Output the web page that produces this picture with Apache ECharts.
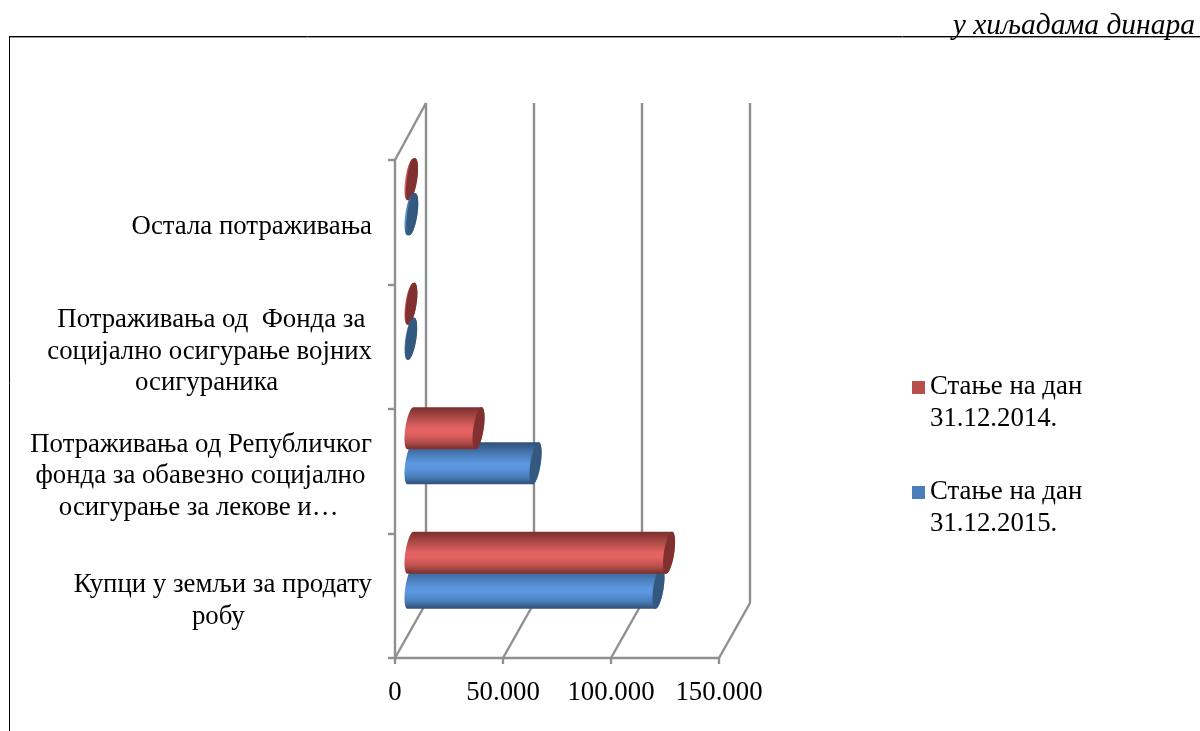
<!DOCTYPE html>
<html>
<head>
<meta charset="utf-8">
<style>html,body{margin:0;padding:0;background:#fff}#c{width:1200px;height:731px}</style>
<script src="https://cdn.jsdelivr.net/npm/echarts@6/dist/echarts.min.js"></script>
</head>
<body>
<div id="c"></div>
<script>
const categories = [
  "Купци у земљи за продату\nробу",
  "Потраживања од Републичког\nфонда за обавезно социјално\nосигурање за лекове и…",
  "Потраживања од  Фонда за\nсоцијално осигурање војних\nосигураника",
  "Остала потраживања"
];
const values2014 = [119700, 31500, 400, 700];
const values2015 = [114800, 57900, 300, 800];
const name2014 = "Стање на дан\n31.12.2014.";
const name2015 = "Стање на дан\n31.12.2015.";
const valueTicks = [0, 50000, 100000, 150000];
const unitNote = "у хиљадама динара";

/* styling and 3D projection, kept apart from the data */
const FONT = "Liberation Serif";
const FS = 26.8;
const labelInsets = [[0,124],[0,10,32],[7,0,92],[0]];
const DX = 31, DY = -55, DY_TOP = -57;
const BAR_DX = 15.5, BAR_DY = -25.5;
const GREY = "#8f8f8f";
const LW = 2.4;
const RY = 21, TILT = 3, RX = 5.2;

function cylinder(values, role, base, mid, edge, cap) {
  return {
    type: "custom", name: role === 0 ? name2014 : name2015, coordinateSystem: "cartesian2d",
    z: 3, clip: false, itemStyle: { color: base }, encode: { x: 0, y: 1 },
    data: values.map((v, i) => [v, i]),
    renderItem(params, api) {
      const start = api.coord([0, api.value(1)]);
      const end = api.coord([api.value(0), api.value(1)]);
      const sep = api.size([0, 1])[1] * 0.1406;
      const cy = start[1] + BAR_DY + (role === 0 ? -sep : sep);
      const x0 = start[0] + BAR_DX, x1 = end[0] + BAR_DX;
      const pt = (cx, t) => [cx + RX * Math.cos(t) - TILT * Math.sin(t), cy + RY * Math.sin(t)];
      const body = [];
      for (let k = 0; k <= 40; k++) body.push(pt(x0, Math.PI / 2 + Math.PI * k / 40));
      for (let k = 0; k <= 40; k++) body.push(pt(x1, -Math.PI / 2 + Math.PI * k / 40));
      const capPts = [];
      for (let k = 0; k < 60; k++) capPts.push(pt(x1, 2 * Math.PI * k / 60));
      const short = x1 - x0 < 2 * RX + 2;
      const z2 = role === 1 ? (short ? 3 : 1) : 2;
      return {
        type: "group",
        children: [
          { type: "polygon", z2, shape: { points: body }, style: {
              fill: new echarts.graphic.LinearGradient(0, 0, 0, 1, [
                { offset: 0, color: edge }, { offset: 0.3, color: base },
                { offset: 0.5, color: mid }, { offset: 0.62, color: mid }, { offset: 0.82, color: base }, { offset: 1, color: edge }
              ]) } },
          { type: "polygon", z2, shape: { points: capPts }, style: { fill: cap } }
        ]
      };
    }
  };
}

const chart = echarts.init(document.getElementById("c"), null, { renderer: "canvas" });
chart.setOption({
  animation: false,
  backgroundColor: "#fff",
  textStyle: { fontFamily: FONT, color: "#000" },
  title: {
    text: unitNote, right: 0, top: 6,
    textStyle: { fontFamily: FONT, fontSize: 29.5, fontStyle: "italic", fontWeight: "normal", color: "#000" }
  },
  grid: { left: 395, top: 160, width: 324, height: 498, containLabel: false },
  xAxis: {
    type: "value", min: 0, max: 150000, interval: 50000,
    splitLine: { show: false },
    axisLine: { show: true, lineStyle: { color: GREY, width: LW } },
    axisTick: { show: true, length: 6, lineStyle: { color: GREY, width: LW } },
    axisLabel: {
      margin: 21, fontFamily: FONT, fontSize: FS, color: "#000",
      formatter: v => String(v).replace(/\B(?=(\d{3})+$)/g, ".")
    }
  },
  yAxis: {
    type: "category", data: categories,
    axisLine: { show: true, lineStyle: { color: GREY, width: LW } },
    axisTick: { show: true, length: 7, lineStyle: { color: GREY, width: LW } },
    axisLabel: {
      interval: 0, margin: 23, fontFamily: FONT, fontSize: FS, lineHeight: 31.5, color: "#000", align: "right",
      rich: {
        s: { height: 10, lineHeight: 10, fontSize: 1 },
        t: { fontFamily: FONT, fontSize: FS, lineHeight: 31.5, color: "#000" }
      },
      formatter(value, index) {
        const lines = value.split("\n").map((line, j) =>
          "{t|" + line + "\u00a0".repeat(Math.round(((labelInsets[index] || [])[j] || 0) / (0.25 * FS))) + "}"
        );
        return ["{s|\u00a0}"].concat(lines).join("\n");
      }
    }
  },
  legend: {
    left: 907, top: 366, orient: "vertical", selectedMode: false,
    icon: "path://M0 0H13V13H0Z M0 44H0.01V44.01H0Z",
    itemWidth: 13, itemHeight: 44, itemGap: 41,
    data: [name2014, name2015],
    textStyle: { fontFamily: FONT, fontSize: FS, lineHeight: 32, color: "#000" }
  },
  series: [
    {
      type: "custom", name: "walls", coordinateSystem: "cartesian2d", z: 1, silent: true, clip: false,
      encode: { x: 0, y: 1 },
      data: valueTicks.map(v => [v, 0]),
      renderItem(params, api) {
        const cs = params.coordSys;
        const x = api.coord([api.value(0), 0])[0];
        const bottom = cs.y + cs.height;
        const kids = [
          { type: "line", shape: { x1: x + DX, y1: bottom + DY, x2: x + DX, y2: cs.y + DY_TOP },
            style: { stroke: GREY, lineWidth: LW } },
          { type: "line", shape: { x1: x, y1: bottom, x2: x + DX, y2: bottom + DY },
            style: { stroke: GREY, lineWidth: LW } }
        ];
        if (params.dataIndex === 0) {
          kids.push({ type: "line", shape: { x1: x, y1: cs.y, x2: x + DX, y2: cs.y + DY_TOP },
            style: { stroke: GREY, lineWidth: LW } });
        }
        return { type: "group", children: kids };
      }
    },
    cylinder(values2015, 1, "#4a7ebb", "#5c96de", "#2f5078", "#33597f"),
    cylinder(values2014, 0, "#b84f4c", "#e46362", "#7a2f2d", "#80312f")
  ],
  graphic: [
    { type: "line", silent: true, shape: { x1: 10, y1: 36.5, x2: 1200, y2: 36.5 }, style: { stroke: "#000", lineWidth: 1 } },
    { type: "line", silent: true, shape: { x1: 10, y1: 37.5, x2: 1200, y2: 37.5 }, style: { stroke: "#999", lineWidth: 1 } },
    { type: "line", silent: true, shape: { x1: 9.5, y1: 36, x2: 9.5, y2: 731 }, style: { stroke: "#000", lineWidth: 1 } }
  ]
});
</script>
</body>
</html>
